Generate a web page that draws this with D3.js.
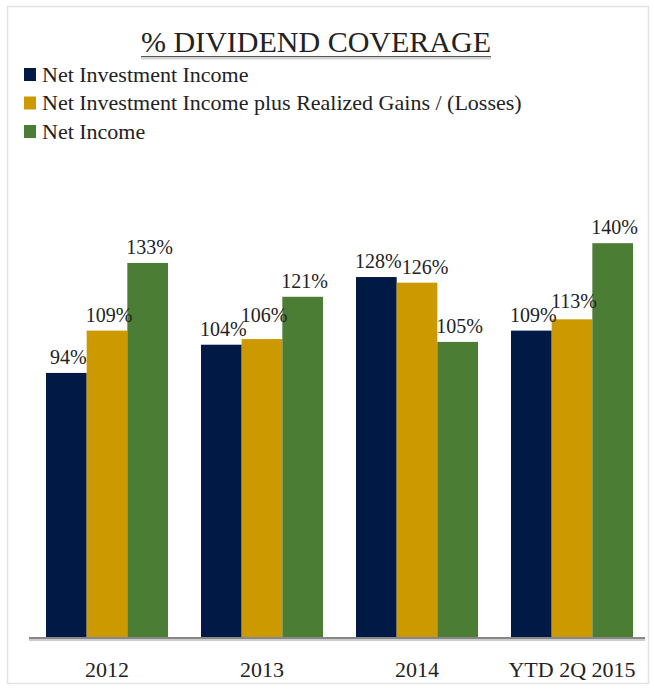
<html>
<head>
    <script src="https://d3js.org/d3.v7.min.js" charset="utf-8"></script>
    <style>
        body { margin: 0; background: #fff; }
        text { font-family: "Liberation Serif", "Times New Roman", serif; fill: #222; }
    </style>
</head>
<body>
    <script>
        var categories = ["2012", "2013", "2014", "YTD 2Q 2015"];
        var seriesNames = ["Net Investment Income", "Net Investment Income plus Realized Gains / (Losses)", "Net Income"];
        var netInvestmentIncome = [94, 104, 128, 109];
        var niiPlusGains = [109, 106, 126, 113];
        var netIncome = [133, 121, 105, 140];
        var colors = ["#011a45", "#cc9a00", "#4b7d35"];

        var series = [netInvestmentIncome, niiPlusGains, netIncome];
        var width = 654, height = 689;
        var baseY = 638;

        var svg = d3.select("body").append("svg").attr("width", width).attr("height", height);

        // light frame round the chart
        svg.append("rect").attr("x", 7.5).attr("y", 6.5).attr("width", 641).attr("height", 677)
            .attr("fill", "none").attr("stroke", "#e2e2e2").attr("stroke-width", 1.5);

        // title with underline
        var title = svg.append("text").attr("x", 316).attr("y", 52)
            .attr("text-anchor", "middle").attr("font-size", "30px")
            .text("% DIVIDEND COVERAGE");
        var tw = title.node().getComputedTextLength();
        svg.append("line").attr("x1", 316 - tw / 2).attr("x2", 316 + tw / 2)
            .attr("y1", 58).attr("y2", 58).attr("stroke", "#d4d4d4").attr("stroke-width", 3);
        svg.append("line").attr("x1", 316 - tw / 2).attr("x2", 316 + tw / 2)
            .attr("y1", 56.5).attr("y2", 56.5).attr("stroke", "#555").attr("stroke-width", 1);

        // legend
        var legend = svg.selectAll("g.legend").data(seriesNames).enter().append("g")
            .attr("class", "legend")
            .attr("transform", function(d, i) { return "translate(24," + (74.5 + i * 28.5) + ")"; });
        legend.append("rect").attr("x", 0).attr("y", -6.5).attr("width", 12).attr("height", 13)
            .attr("fill", function(d, i) { return colors[i]; });
        legend.append("text").attr("x", 18).attr("y", 7).attr("font-size", "22px")
            .text(function(d) { return d; });

        // scales
        var x = d3.scaleBand().domain(categories).range([29.5, 649.5])
            .paddingInner(0.213).paddingOuter(0.1065);
        var xs = d3.scaleBand().domain(d3.range(series.length)).range([0, x.bandwidth()]);
        var y = d3.scaleLinear().domain([0, 140]).range([baseY, baseY - 140 * 2.82]);

        var groups = svg.selectAll("g.cat").data(categories).enter().append("g")
            .attr("class", "cat")
            .attr("transform", function(d) { return "translate(" + x(d) + ",0)"; });

        function cells(d, ci) {
            return series.map(function(s, si) { return { s: si, v: s[ci] }; });
        }

        // draw the bars
        groups.selectAll("rect").data(cells)
            .enter().append("rect")
            .attr("x", function(d) { return xs(d.s); })
            .attr("width", xs.bandwidth())
            .attr("y", function(d) { return y(d.v); })
            .attr("height", function(d) { return baseY - y(d.v); })
            .attr("fill", function(d) { return colors[d.s]; });

        // value labels, nudged so neighbours don't collide
        var lineH = 14;
        groups.each(function(c, ci) {
            var g = d3.select(this);
            var prev = null;
            cells(c, ci).forEach(function(d) {
                var t = g.append("text").attr("class", "val")
                    .attr("text-anchor", "middle").attr("font-size", "20px")
                    .text(d.v + "%");
                var w = t.node().getComputedTextLength();
                var cx = xs(d.s) + xs.bandwidth() / 2 + 2;
                var ly = y(d.v) - 9;
                if (prev && Math.abs(ly - prev.y) < lineH) {
                    var overlap = (prev.cx + prev.w / 2) - (cx - w / 2);
                    if (overlap > 0) {
                        if (ly <= prev.y + 1) ly = prev.y - lineH;
                        else cx += overlap;
                    }
                }
                t.attr("x", cx).attr("y", ly);
                prev = { cx: cx, y: ly, w: w };
            });
        });

        // baseline
        svg.append("line").attr("x1", 29).attr("x2", 645).attr("y1", baseY + 2).attr("y2", baseY + 2)
            .attr("stroke", "#ccc").attr("stroke-width", 2);
        svg.append("line").attr("x1", 29).attr("x2", 645).attr("y1", baseY).attr("y2", baseY)
            .attr("stroke", "#888").attr("stroke-width", 2);

        // category labels
        var xAxis = svg.append("g").attr("transform", "translate(0," + baseY + ")")
            .call(d3.axisBottom(x).tickSize(0).tickPadding(23));
        xAxis.select(".domain").remove();
        xAxis.selectAll("text").attr("font-size", "22px")
            .style("font-family", "'Liberation Serif', 'Times New Roman', serif").attr("fill", "#222");
    </script>
</body>
</html>
